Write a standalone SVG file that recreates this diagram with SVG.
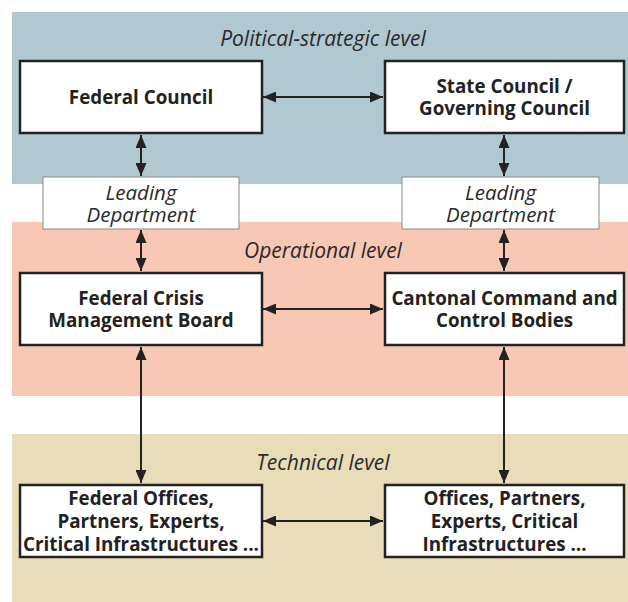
<svg xmlns="http://www.w3.org/2000/svg" width="628" height="602" viewBox="0 0 628 602">
<style>
.band-label{font-family:"Open Sans","Liberation Sans",sans-serif;font-style:italic;font-size:21px;fill:#2a2a2a;text-anchor:middle}
.box{fill:#fff;stroke:#222;stroke-width:2.5}
.ld{fill:#fff;stroke:#8a8a8a;stroke-width:1}
.t{font-family:"Open Sans","Liberation Sans",sans-serif;font-weight:bold;font-size:18.8px;fill:#222;text-anchor:middle}
.ti{font-family:"Open Sans","Liberation Sans",sans-serif;font-style:italic;font-size:20.5px;fill:#2a2a2a;text-anchor:middle}
.c{stroke:#222;stroke-width:2;fill:none;marker-start:url(#ah);marker-end:url(#ah)}
</style>
<defs>
<marker id="ah" viewBox="0 0 13 11" refX="13" refY="5.5" markerWidth="13" markerHeight="11" markerUnits="userSpaceOnUse" orient="auto-start-reverse">
<path d="M0,0 L13,5.5 L0,11 z" fill="#222"/>
</marker>
</defs>
<rect width="628" height="602" fill="#fff"/>
<g id="bands">
<rect x="12" y="12" width="616" height="172" fill="#b0c8d0"/>
<rect x="12" y="222" width="616" height="174" fill="#f8c8b4"/>
<rect x="12" y="434" width="616" height="168" fill="#e8dcb9"/>
<text class="band-label" x="323" y="46">Political-strategic level</text>
<text class="band-label" x="323" y="258">Operational level</text>
<text class="band-label" x="323" y="470">Technical level</text>
</g>
<g id="connectors">
<line class="c" x1="263" y1="97" x2="383" y2="97"/>
<line class="c" x1="263" y1="309" x2="383" y2="309"/>
<line class="c" x1="263" y1="521" x2="383" y2="521"/>
<line class="c" x1="141" y1="135" x2="141" y2="176"/>
<line class="c" x1="141" y1="230" x2="141" y2="271"/>
<line class="c" x1="141" y1="347" x2="141" y2="483"/>
<line class="c" x1="504" y1="135" x2="504" y2="176"/>
<line class="c" x1="504" y1="230" x2="504" y2="271"/>
<line class="c" x1="504" y1="347" x2="504" y2="483"/>
</g>
<g id="federal-council">
<rect class="box" x="20" y="61" width="242" height="72"/>
<text class="t" x="141" y="104">Federal Council</text>
</g>
<g id="state-council">
<rect class="box" x="385" y="61" width="239" height="72"/>
<text class="t" x="504.5" y="93">State Council /</text>
<text class="t" x="504.5" y="115">Governing Council</text>
</g>
<g id="leading-dept-left">
<rect class="ld" x="43" y="177" width="196" height="52"/>
<text class="ti" x="141" y="200">Leading</text>
<text class="ti" x="141" y="222">Department</text>
</g>
<g id="leading-dept-right">
<rect class="ld" x="402" y="177" width="197" height="52"/>
<text class="ti" x="500.5" y="200">Leading</text>
<text class="ti" x="500.5" y="222">Department</text>
</g>
<g id="federal-crisis">
<rect class="box" x="20" y="273" width="242" height="72"/>
<text class="t" x="141" y="305">Federal Crisis</text>
<text class="t" x="141" y="327">Management Board</text>
</g>
<g id="cantonal">
<rect class="box" x="385" y="273" width="239" height="72"/>
<text class="t" x="504.5" y="305">Cantonal Command and</text>
<text class="t" x="504.5" y="327">Control Bodies</text>
</g>
<g id="federal-offices">
<rect class="box" x="20" y="485" width="242" height="72"/>
<text class="t" x="141" y="505">Federal Offices,</text>
<text class="t" x="141" y="528">Partners, Experts,</text>
<text class="t" x="141" y="551">Critical Infrastructures ...</text>
</g>
<g id="offices">
<rect class="box" x="385" y="485" width="239" height="72"/>
<text class="t" x="504.5" y="505">Offices, Partners,</text>
<text class="t" x="504.5" y="528">Experts, Critical</text>
<text class="t" x="504.5" y="551">Infrastructures ...</text>
</g>
</svg>
